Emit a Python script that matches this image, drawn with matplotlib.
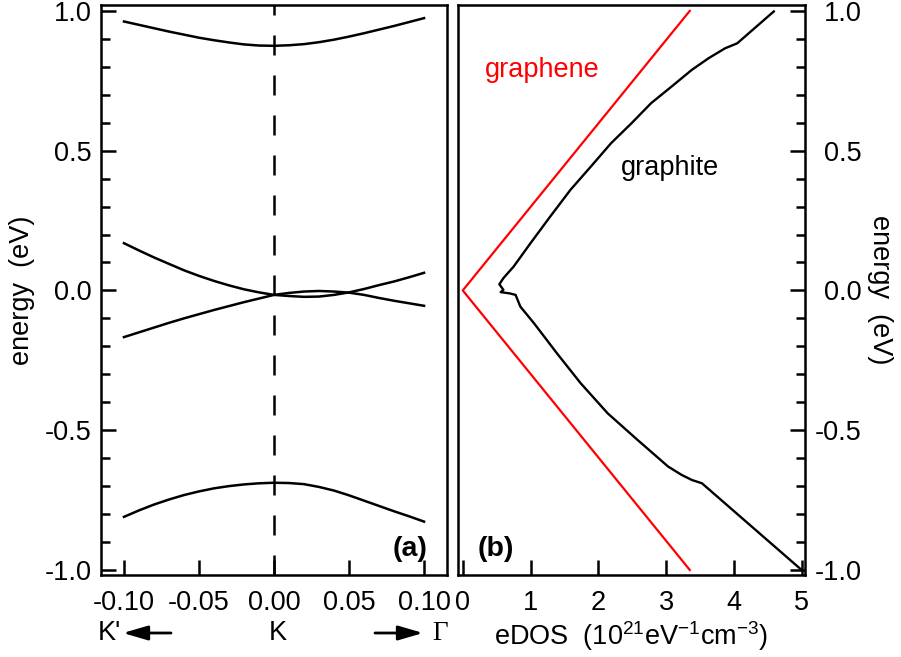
import matplotlib.pyplot as plt
from matplotlib.ticker import MultipleLocator

plt.rcParams['font.family'] = ['Liberation Sans', 'DejaVu Sans']
plt.rcParams['font.size'] = 19.5
plt.rcParams['axes.unicode_minus'] = False
plt.rcParams['mathtext.fontset'] = 'custom'
plt.rcParams['mathtext.rm'] = 'Liberation Sans'
plt.rcParams['mathtext.it'] = 'Liberation Sans:italic'

# (a) band structure near K, wave vector along K' <- K -> Gamma
k = [-0.10, -0.09, -0.08, -0.07, -0.06, -0.05, -0.04, -0.03, -0.02, -0.01, 0.00,
     0.01, 0.02, 0.03, 0.04, 0.05, 0.06, 0.07, 0.08, 0.09, 0.10]
band_top = [0.962, 0.950, 0.938, 0.926, 0.915, 0.904, 0.895, 0.887, 0.880, 0.876, 0.875,
            0.877, 0.881, 0.888, 0.897, 0.908, 0.920, 0.933, 0.946, 0.960, 0.974]
band_a = [0.169, 0.143, 0.118, 0.095, 0.072, 0.052, 0.034, 0.018, 0.004, -0.007, -0.016,
          -0.020, -0.023, -0.022, -0.016, -0.007, 0.005, 0.019, 0.032, 0.047, 0.063]
band_b = [-0.167, -0.150, -0.133, -0.116, -0.100, -0.085, -0.070, -0.056, -0.042, -0.029, -0.016,
          -0.009, -0.004, -0.002, -0.004, -0.008, -0.016, -0.027, -0.037, -0.046, -0.055]
band_bottom = [-0.810, -0.787, -0.766, -0.748, -0.732, -0.719, -0.708, -0.700, -0.694, -0.690, -0.688,
               -0.689, -0.693, -0.703, -0.716, -0.733, -0.752, -0.771, -0.790, -0.808, -0.827]

# (b) electronic density of states
graphene_e = [-1.0, 0.0, 1.0]
graphene_dos = [3.35, 0.0, 3.35]
graphite_e = [-1.000, -0.690, -0.678, -0.660, -0.630, -0.535, -0.440, -0.332, -0.225, -0.117,
              -0.058, -0.028, -0.016, -0.011, -0.006, 0.002, 0.022, 0.044, 0.085, 0.169,
              0.264, 0.360, 0.443, 0.527, 0.598, 0.670, 0.729, 0.789, 0.831, 0.866,
              0.884, 0.998]
graphite_dos = [5.00, 3.53, 3.38, 3.23, 3.03, 2.58, 2.14, 1.74, 1.39, 1.05,
                0.85, 0.80, 0.78, 0.70, 0.56, 0.60, 0.54, 0.60, 0.75, 1.00,
                1.29, 1.59, 1.89, 2.19, 2.49, 2.78, 3.08, 3.38, 3.63, 3.87,
                4.05, 4.59]

k_ticks = [-0.10, -0.05, 0.00, 0.05, 0.10]
k_labels = ['-0.10', '-0.05', '0.00', '0.05', '0.10']
dos_ticks = [0, 1, 2, 3, 4, 5]
e_ticks = [-1.0, -0.5, 0.0, 0.5, 1.0]
e_labels = ['-1.0', '-0.5', '0.0', '0.5', '1.0']

W, H = 901, 657
fig = plt.figure(figsize=(W / 100, H / 100), dpi=100)
ax1 = fig.add_axes([101 / W, 82 / H, 346 / W, 570 / H])
ax2 = fig.add_axes([458 / W, 82 / H, 347 / W, 570 / H])

lw = 1.8
for band in (band_top, band_a, band_b, band_bottom):
    ax1.plot(k, band, color='k', lw=lw)
ax1.axvline(0, color='k', lw=lw, ls=(0, (8, 8)))

ax2.plot(graphene_dos, graphene_e, color='#ff0000', lw=1.6)
ax2.plot(graphite_dos, graphite_e, color='k', lw=1.7)

for ax in (ax1, ax2):
    ax.set_ylim(-1.018, 1.021)
    ax.set_yticks(e_ticks)
    ax.yaxis.set_minor_locator(MultipleLocator(0.1))
    for s in ax.spines.values():
        s.set_linewidth(lw)
    ax.tick_params(which='both', direction='in', width=lw, top=False)
    ax.tick_params(which='major', length=11)
    ax.tick_params(which='minor', length=6.5)
    ax.tick_params(axis='x', which='minor', bottom=False)
    ax.tick_params(axis='x', pad=11)

ax1.set_xlim(-0.1153, 0.1153)
ax1.set_xticks(k_ticks)
ax1.set_xticklabels(k_labels)
ax1.set_yticklabels(e_labels)
ax1.tick_params(axis='y', which='both', right=False, pad=7)

ax2.set_xlim(-0.07, 5.05)
ax2.set_xticks(dos_ticks)
ax2.set_xticklabels([str(d) for d in dos_ticks])
ax2.yaxis.tick_right()
ax2.set_yticklabels(e_labels)
ax2.tick_params(axis='y', which='both', left=False, right=True, labelleft=False,
                labelright=True, pad=41)
for lab in ax2.get_yticklabels():
    lab.set_horizontalalignment('right')


def fx(px):
    return px / W


def fy(py):
    return 1 - py / H


fig.text(fx(410), fy(549), '(a)', fontweight='bold', fontsize=20.5, ha='center', va='center')
fig.text(fx(496), fy(549), '(b)', fontweight='bold', fontsize=20.5, ha='center', va='center')
fig.text(fx(542), fy(70), 'graphene', color='#ff0000', ha='center', va='center')
fig.text(fx(670), fy(168), 'graphite', color='k', ha='center', va='center')

fig.text(fx(22), fy(290), 'energy  (eV)', rotation=90, ha='center', va='center')
fig.text(fx(880), fy(290), 'energy  (eV)', rotation=-90, ha='center', va='center')

fig.text(fx(109), fy(633), "K'", ha='center', va='center')
fig.text(fx(278), fy(633), 'K', ha='center', va='center')
fig.text(fx(440), fy(633), '\u0393', ha='center', va='center',
         family=['Liberation Serif', 'DejaVu Serif'])
arrow = dict(arrowstyle='-|>,head_length=0.75,head_width=0.22', color='k', lw=2,
             mutation_scale=20, shrinkA=0, shrinkB=0)
ax1.annotate('', xy=(fx(123), fy(633)), xytext=(fx(171), fy(633)),
             xycoords='figure fraction', textcoords='figure fraction',
             arrowprops=arrow, annotation_clip=False)
ax1.annotate('', xy=(fx(423), fy(633)), xytext=(fx(375), fy(633)),
             xycoords='figure fraction', textcoords='figure fraction',
             arrowprops=arrow, annotation_clip=False)

fig.text(fx(631), fy(636), 'eDOS  (10$^{21}$eV$^{-1}$cm$^{-3}$)', ha='center', va='center')

fig.savefig('out.png', dpi=100)
